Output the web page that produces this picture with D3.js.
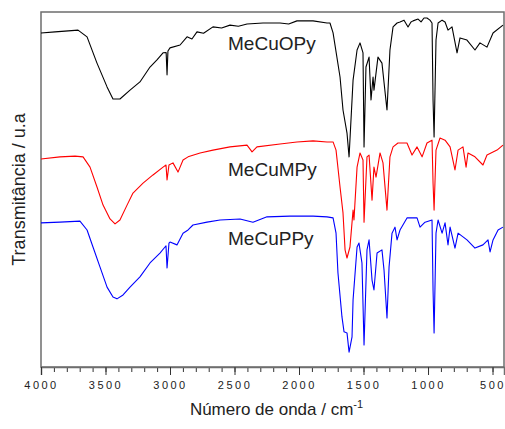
<!DOCTYPE html>
<html>
<head>
<meta charset="utf-8">
<script src="https://cdn.jsdelivr.net/npm/d3@7"></script>
<style>
  html, body { margin: 0; padding: 0; background: #fff; }
  svg { display: block; }
  text { font-family: "Liberation Sans", Arial, sans-serif; fill: #222; }
</style>
</head>
<body>
<svg id="chart" width="505" height="429"></svg>
<script>
// FTIR spectra, [wavenumber (cm-1), transmittance (u.a.)]
const MeCuOPy = [
  [4000, 94.1], [3891, 94.4], [3814, 94.6], [3713, 94.9], [3643, 93.0], [3566, 85.6],
  [3488, 78.9], [3442, 75.5], [3388, 75.5], [3310, 78.0], [3233, 80.3], [3155, 84.5],
  [3101, 86.5], [3054, 88.5], [3030, 88.6], [3023, 82.3], [3016, 89.0], [3000, 89.9],
  [2922, 90.7], [2868, 93.0], [2830, 92.4], [2791, 94.4], [2740, 94.0], [2667, 95.8],
  [2600, 95.5], [2535, 96.3], [2470, 96.0], [2403, 96.6], [2279, 96.9], [2147, 96.9],
  [2080, 96.6], [2016, 97.5], [1891, 97.5], [1783, 96.9], [1760, 96.9],
  [1736, 94.1], [1682, 81.7], [1659, 72.4], [1628, 65.9], [1612, 59.2], [1581, 80.8],
  [1550, 89.3], [1527, 91.3], [1504, 88.5], [1496, 62.0], [1481, 84.5], [1457, 87.3],
  [1442, 75.2], [1426, 81.7], [1419, 78.0], [1388, 87.3], [1357, 85.6], [1318, 72.4],
  [1295, 89.3], [1271, 95.8], [1240, 96.9], [1217, 97.2], [1186, 97.7], [1155, 95.8],
  [1132, 97.2], [1116, 97.5], [1077, 98.0], [1054, 97.2], [1031, 98.3], [1008, 98.3],
  [985, 97.7], [969, 96.9], [961, 75.2], [953, 64.8], [938, 92.1], [922, 96.9],
  [891, 97.7], [868, 97.2], [845, 94.9], [814, 95.8], [775, 88.5], [752, 92.7],
  [698, 92.1], [636, 89.3], [597, 91.3], [543, 90.1], [496, 94.1], [419, 96.3]
];

const MeCuMPy = [
  [4000, 58.6], [3853, 59.2], [3736, 59.4], [3674, 59.2], [3620, 56.3], [3566, 50.7],
  [3519, 45.6], [3465, 41.7], [3426, 40.3], [3388, 41.4], [3333, 45.6], [3287, 49.0],
  [3209, 51.8], [3132, 54.1], [3054, 56.3], [3031, 56.9], [3023, 52.7], [3008, 56.9],
  [2977, 57.5], [2938, 54.9], [2899, 58.3], [2860, 59.2], [2767, 60.3], [2667, 61.1],
  [2535, 62.0], [2403, 62.5], [2364, 60.6], [2326, 62.0], [2147, 62.8], [2016, 63.4],
  [1891, 63.7], [1783, 63.4], [1736, 63.4], [1713, 61.1], [1682, 50.7], [1659, 43.4],
  [1643, 33.0], [1628, 30.7], [1605, 33.8], [1581, 44.2], [1574, 41.4], [1550, 56.3],
  [1527, 60.3], [1504, 58.3], [1496, 40.8], [1473, 59.2], [1457, 59.7], [1434, 47.0],
  [1419, 56.3], [1403, 53.5], [1372, 60.3], [1349, 57.5], [1318, 44.2], [1295, 59.2],
  [1271, 62.0], [1233, 63.1], [1163, 63.1], [1124, 59.7], [1085, 62.0], [1046, 59.2],
  [1008, 63.1], [969, 63.9], [961, 51.8], [953, 44.2], [938, 61.1], [907, 64.5],
  [868, 63.9], [829, 62.0], [791, 55.5], [767, 61.1], [729, 62.0], [705, 56.3],
  [690, 60.3], [636, 59.2], [574, 56.9], [543, 59.7], [465, 61.1], [419, 62.5]
];

const MeCuPPy = [
  [4000, 40.6], [3853, 40.8], [3698, 41.1], [3643, 38.6], [3597, 33.8], [3543, 28.2],
  [3488, 22.5], [3442, 19.7], [3411, 19.2], [3364, 20.3], [3310, 22.5], [3233, 25.4],
  [3155, 29.3], [3078, 32.1], [3039, 33.8], [3031, 34.1], [3023, 27.9], [3008, 34.9],
  [3000, 35.2], [2946, 34.4], [2899, 37.7], [2860, 38.6], [2822, 40.0], [2713, 40.8],
  [2612, 41.4], [2457, 41.7], [2357, 40.8], [2248, 42.3], [2070, 42.5], [1891, 42.5],
  [1783, 42.3], [1736, 42.0], [1713, 37.7], [1698, 26.5], [1667, 14.1], [1651, 9.9],
  [1628, 9.6], [1612, 4.2], [1589, 8.5], [1581, 18.9], [1550, 33.8], [1535, 34.9],
  [1512, 29.3], [1496, 6.2], [1473, 33.0], [1457, 35.8], [1434, 24.5], [1419, 21.7],
  [1395, 32.1], [1357, 33.0], [1341, 27.3], [1318, 13.8], [1302, 28.2], [1279, 37.7],
  [1256, 39.4], [1240, 35.8], [1217, 38.6], [1163, 42.0], [1085, 42.0], [1062, 39.4],
  [1023, 40.8], [969, 41.4], [961, 21.7], [953, 9.6], [938, 37.7], [922, 41.4],
  [891, 37.7], [868, 40.6], [845, 34.4], [829, 39.4], [806, 35.8], [791, 33.5],
  [767, 37.7], [698, 35.8], [636, 33.5], [574, 34.4], [535, 35.8], [519, 32.4],
  [496, 35.8], [457, 38.6], [419, 39.4]
];

const seriesNames = ["MeCuOPy", "MeCuMPy", "MeCuPPy"];
const seriesColors = ["#000000", "#ff0000", "#0000ff"];
// where each sample name sits: [wavenumber, transmittance]
const labelAnchors = [[2550, 89.3], [2550, 53.8], [2550, 34.4]];

const majorTicks = [4000, 3500, 3000, 2500, 2000, 1500, 1000, 500];
const minorTicks = d3.range(4000, 400, -100);
const xTitle = "Número de onda / cm";
const xTitleSup = "-1";
const yTitle = "Transmitância / u.a";

const margin = { left: 41, top: 12, right: 1, bottom: 62 };
const W = 505, H = 429;
const svg = d3.select("#chart");

const x = d3.scaleLinear().domain([4000, 411]).range([margin.left, W - margin.right]);
const y = d3.scaleLinear().domain([0, 100]).range([H - margin.bottom, margin.top]);

// plot frame
svg.append("rect")
  .attr("x", margin.left).attr("y", margin.top)
  .attr("width", W - margin.right - margin.left)
  .attr("height", H - margin.bottom - margin.top)
  .attr("fill", "none").attr("stroke", "#6e6e6e").attr("stroke-width", 1.5);

// spectra
const line = d3.line().x(d => x(d[0])).y(d => y(d[1]));
[MeCuOPy, MeCuMPy, MeCuPPy].forEach((s, i) => {
  svg.append("path").datum(s)
    .attr("d", line)
    .attr("fill", "none")
    .attr("stroke", seriesColors[i])
    .attr("stroke-width", 1.1)
    .attr("stroke-linejoin", "round");
});

// x axis: minor ticks every 100, labelled majors every 500
const axisY = H - margin.bottom;
const gx = svg.append("g").attr("transform", `translate(0,${axisY})`);
gx.call(d3.axisBottom(x).tickValues(minorTicks).tickSize(5).tickFormat(""))
  .call(g => g.select(".domain").remove())
  .call(g => g.selectAll("line").attr("stroke", "#333"));
const gxm = svg.append("g").attr("transform", `translate(0,${axisY})`);
gxm.call(d3.axisBottom(x).tickValues(majorTicks).tickSize(8).tickPadding(6).tickFormat(d3.format("d")))
  .call(g => g.select(".domain").attr("stroke", "#6e6e6e").attr("stroke-width", 1.5))
  .call(g => g.selectAll("line").attr("stroke", "#333"))
  .call(g => g.selectAll("text")
    .attr("font-family", "'Liberation Sans', Arial, sans-serif")
    .attr("font-size", 11)
    .attr("letter-spacing", 2.5)
    .attr("fill", "#222"));

// series labels
seriesNames.forEach((name, i) => {
  svg.append("text")
    .attr("x", x(labelAnchors[i][0]))
    .attr("y", y(labelAnchors[i][1]))
    .attr("font-size", 19)
    .text(name);
});

// axis titles
const xt = svg.append("text")
  .attr("x", (margin.left + W - margin.right) / 2 + 4)
  .attr("y", 415)
  .attr("text-anchor", "middle")
  .attr("font-size", 17);
xt.append("tspan").text(xTitle);
xt.append("tspan").attr("dy", -7).attr("font-size", 11).text(xTitleSup);

svg.append("text")
  .attr("transform", `translate(25,${(margin.top + H - margin.bottom) / 2}) rotate(-90)`)
  .attr("text-anchor", "middle")
  .attr("font-size", 18)
  .text(yTitle);
</script>
</body>
</html>
